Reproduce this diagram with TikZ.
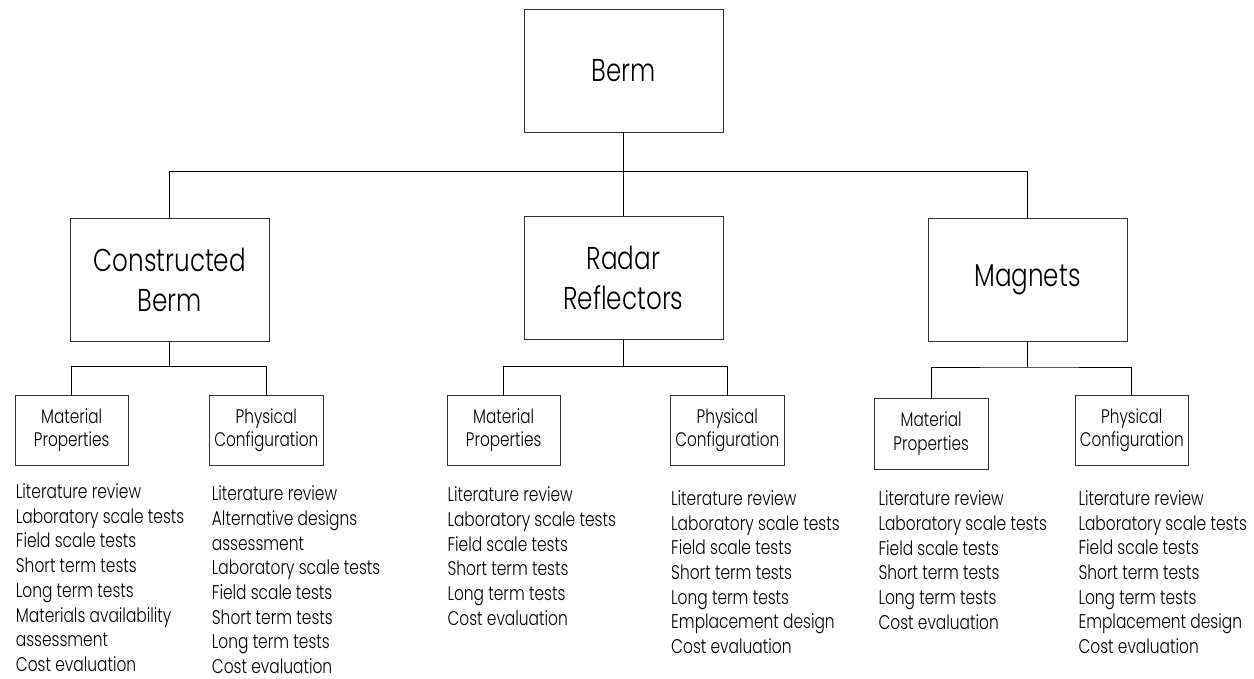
\documentclass[tikz,border=0pt]{standalone}
\usepackage{fontspec}
\setmainfont{Poppins Light}[FakeStretch=0.78]
\begin{document}
\begin{tikzpicture}[x=1pt,y=-1pt,
  box/.style={draw=black!80, line width=0.9pt, inner sep=0pt, align=center},
  bigbox/.style={box, minimum width=199pt, minimum height=123pt, font=\fontsize{31.6}{39.5}\selectfont},
  smallbox/.style={box, minimum width=113.5pt, minimum height=70.3pt, font=\fontsize{19.6}{23.3}\selectfont},
  item/.style={inner sep=0pt, anchor=base west, font=\fontsize{19.8}{22}\selectfont},
  link/.style={line width=0.9pt, black}]
\useasboundingbox (0,0) rectangle (1254,678);
\fill[white] (0,0) rectangle (1254,678);

% top level
\node[bigbox] (berm) at (623.5,70.5) {Berm};
\node[bigbox] (cb) at (169.8,280) {Constructed\\Berm};
\node[bigbox] (rr) at (623.5,278) {Radar\\Reflectors};
\node[bigbox] (mag) at (1027.5,280.2) {Magnets};

% second level
\node[smallbox] (cm) at (71.7,430.2) {Material\\Properties};
\node[smallbox] (cp) at (266.3,430.2) {Physical\\Configuration};
\node[smallbox] (rm) at (503.7,430.2) {Material\\Properties};
\node[smallbox] (rp) at (727.3,430.2) {Physical\\Configuration};
\node[smallbox] (mm) at (931.2,433.8) {Material\\Properties};
\node[smallbox] (mp) at (1131.8,430.3) {Physical\\Configuration};

% connectors
\coordinate (topbus) at (623.5,171.3);
\coordinate (cbbus) at (169.8,366.7);
\coordinate (rrbus) at (623.5,366.7);
\coordinate (magbus) at (1027.5,367);
\draw[link] (berm.south) -- (rr.north);
\draw[link] (cb.north) |- (topbus) -| (mag.north);
\draw[link] (cb.south) -- (cbbus);
\draw[link] (cm.north) |- (cbbus) -| (cp.north);
\draw[link] (rr.south) -- (rrbus);
\draw[link] (rm.north) |- (rrbus) -| (rp.north);
\draw[link] (mag.south) -- (magbus);
\draw[link] (mm.north) |- (magbus) -| (mp.north);

% lists
\foreach \t [count=\i from 0] in {Literature review, Laboratory scale tests, Field scale tests, Short term tests, Long term tests, Materials availability, assessment, Cost evaluation}
  \node[item] (cml-\i) at (15.7,498.3+24.77*\i) {\t};
\foreach \t [count=\i from 0] in {Literature review, Alternative designs, assessment, Laboratory scale tests, Field scale tests, Short term tests, Long term tests, Cost evaluation}
  \node[item] (cpl-\i) at (211.7,500.7+24.66*\i) {\t};
\foreach \t [count=\i from 0] in {Literature review, Laboratory scale tests, Field scale tests, Short term tests, Long term tests, Cost evaluation}
  \node[item] (rml-\i) at (447.3,501.7+24.67*\i) {\t};
\foreach \t [count=\i from 0] in {Literature review, Laboratory scale tests, Field scale tests, Short term tests, Long term tests, Emplacement design, Cost evaluation}
  \node[item] (rpl-\i) at (671,505.7+24.6*\i) {\t};
\foreach \t [count=\i from 0] in {Literature review, Laboratory scale tests, Field scale tests, Short term tests, Long term tests, Cost evaluation}
  \node[item] (mml-\i) at (878.3,505.7+24.7*\i) {\t};
\foreach \t [count=\i from 0] in {Literature review, Laboratory scale tests, Field scale tests, Short term tests, Long term tests, Emplacement design, Cost evaluation}
  \node[item] (mpl-\i) at (1078.3,505.7+24.6*\i) {\t};
\end{tikzpicture}
\end{document}
